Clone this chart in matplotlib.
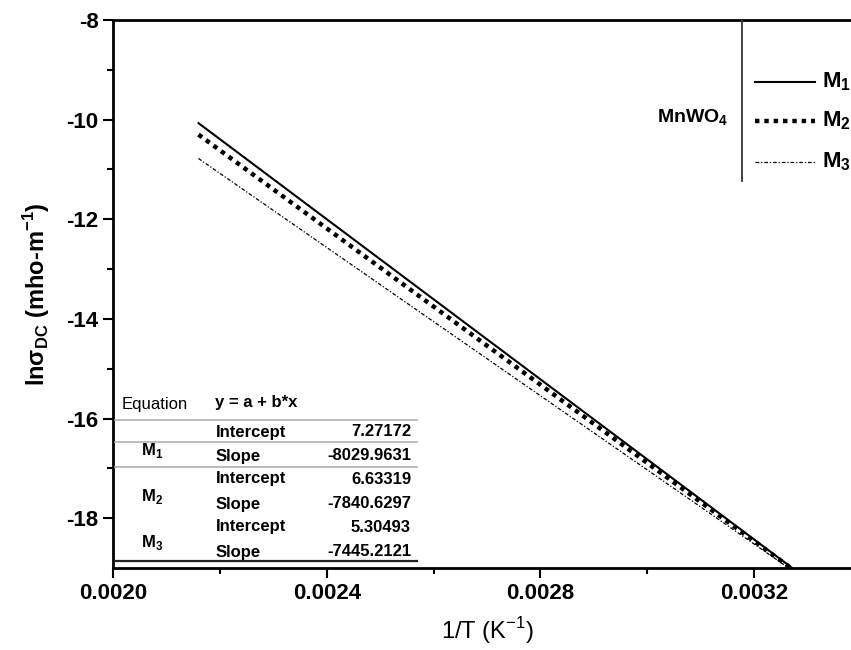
import numpy as np
import matplotlib.pyplot as plt
from matplotlib.lines import Line2D

plt.rcParams['font.family'] = ['Liberation Sans', 'DejaVu Sans']
plt.rcParams['mathtext.fontset'] = 'custom'
plt.rcParams['mathtext.rm'] = 'Liberation Sans'
plt.rcParams['mathtext.bf'] = 'Liberation Sans:bold'

# --- data ---
x_ends = [0.00216, 0.00327]
m1_y = [-10.07, -18.99]
m2_y = [-10.30, -19.01]
m3_y = [-10.78, -19.04]
series_names = ['M$_\\mathregular{1}$', 'M$_\\mathregular{2}$', 'M$_\\mathregular{3}$']
intercepts = ['7.27172', '6.63319', '5.30493']
slopes = ['-8029.9631', '-7840.6297', '-7445.2121']

W, H = 851, 650
fig = plt.figure(figsize=(W / 100, H / 100), dpi=100)
ax = fig.add_axes([113 / W, 1 - 568 / H, (861 - 113) / W, (568 - 20) / H])

ax.plot(x_ends, m1_y, color='black', lw=1.5, ls='-')
ax.plot(x_ends, m2_y, color='black', lw=3.2, ls=(0, (1, 1.1)))
ax.plot(x_ends, m3_y, color='black', lw=0.9, ls=(0, (3, 1.5, 1, 1.5)))

ax.set_xlim(0.0020, 0.0034)
ax.set_ylim(-19, -8)
ax.set_xticks([0.0020, 0.0024, 0.0028, 0.0032])
ax.set_xticks(np.arange(0.0022, 0.0034, 0.0004), minor=True)
ax.set_yticks([-18, -16, -14, -12, -10, -8])
ax.set_yticks([-17, -15, -13, -11, -9], minor=True)
ax.xaxis.set_major_formatter(plt.FormatStrFormatter('%.4f'))
ax.yaxis.set_major_formatter(plt.FormatStrFormatter('%d'))
ax.tick_params(which='major', direction='out', length=7, width=1.5, labelsize=16)
ax.tick_params(which='minor', direction='out', length=4, width=1.5)
for lbl in ax.get_xticklabels() + ax.get_yticklabels():
    lbl.set_fontweight('bold')
for s in ['left', 'bottom', 'top']:
    ax.spines[s].set_linewidth(2)
ax.spines['right'].set_visible(False)

ax.set_xlabel('1/T (K$^{\\mathregular{-1}}$)', fontsize=17, labelpad=8)
ax.set_ylabel('ln\u03c3$_{\\mathregular{DC}}$ (mho-m$^{\\mathregular{-1}}$)', fontsize=17,
              fontweight='bold', labelpad=10)


def fx(px):
    return px / W


def fy(py):
    return 1 - py / H


# --- legend box (top right) ---
fig.add_artist(Line2D([fx(742), fx(742)], [fy(20), fy(181)], color='#333333', lw=1.3))
fig.text(fx(728), fy(118), 'MnWO$_\\mathregular{4}$', ha='right', va='center', fontsize=14,
         fontweight='bold')
leg_styles = [dict(lw=1.5, ls='-'), dict(lw=3.2, ls=(0, (1, 1.1))),
              dict(lw=0.9, ls=(0, (3, 1.5, 1, 1.5)))]
for yy, name, st in zip([82, 121, 162], series_names, leg_styles):
    fig.add_artist(Line2D([fx(755), fx(815)], [fy(yy), fy(yy)], color='black', **st))
    fig.text(fx(822), fy(yy), name, ha='left', va='center', fontsize=16, fontweight='bold')

# --- fit table (bottom left) ---
fs = 12
fig.text(fx(122), fy(404), 'Equation', ha='left', va='center', fontsize=fs)
fig.text(fx(215), fy(402), 'y = a + b*x', ha='left', va='center', fontsize=fs, fontweight='bold')
for yy in [420, 442, 467]:
    fig.add_artist(Line2D([fx(115), fx(417)], [fy(yy), fy(yy)], color='#b0b0b0', lw=1.2))
fig.add_artist(Line2D([fx(115), fx(417)], [fy(561), fy(561)], color='#222222', lw=1.6))
row_y = [(432, 456), (479, 504), (527, 552)]
label_y = [450, 497, 543]
for (yi, ys), ly, name, a, b in zip(row_y, label_y, series_names, intercepts, slopes):
    fig.text(fx(152), fy(ly), name, ha='center', va='center', fontsize=fs, fontweight='bold')
    fig.text(fx(216), fy(yi), 'Intercept', ha='left', va='center', fontsize=fs, fontweight='bold')
    fig.text(fx(216), fy(ys), 'Slope', ha='left', va='center', fontsize=fs, fontweight='bold')
    fig.text(fx(411), fy(yi), a, ha='right', va='center', fontsize=fs, fontweight='bold')
    fig.text(fx(411), fy(ys), b, ha='right', va='center', fontsize=fs, fontweight='bold')

fig.savefig('out.png', dpi=100)
